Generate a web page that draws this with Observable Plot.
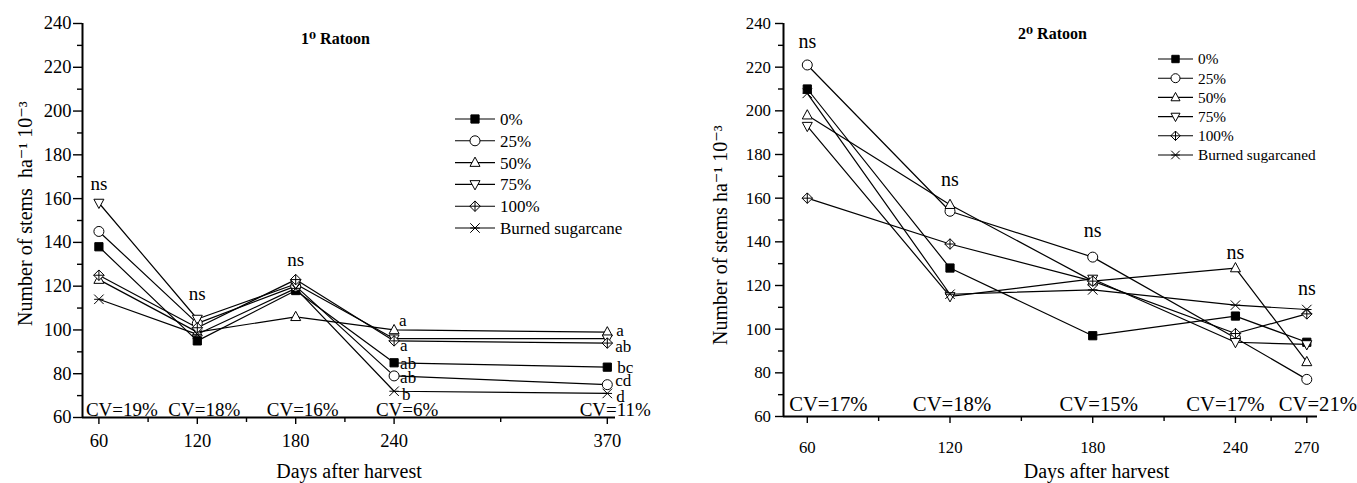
<!DOCTYPE html>
<html><head><meta charset="utf-8">
<script src="https://cdn.jsdelivr.net/npm/d3@7"></script>
<script src="https://cdn.jsdelivr.net/npm/@observablehq/plot@0.6"></script>
<style>
body{margin:0;background:#fff;}
#wrap{position:relative;width:1357px;height:483px;overflow:hidden;background:#fff;}
#wrap svg{position:absolute;top:0;}
</style></head><body><div id="wrap"></div>
<script>
// ---------- data ----------
const seriesNames = ["0%", "25%", "50%", "75%", "100%", "Burned sugarcane"];
const legendNames1 = ["0%", "25%", "50%", "75%", "100%", "Burned sugarcane"];
const legendNames2 = ["0%", "25%", "50%", "75%", "100%", "Burned sugarcaned"];

const days1 = [60, 120, 180, 240, 370];
const r1_0    = [138, 95, 118, 85, 83];
const r1_25   = [145, 103, 120, 79, 75];
const r1_50   = [123, 99, 106, 100, 99];
const r1_75   = [158, 105, 121, 96, 96];
const r1_100  = [125, 101, 123, 95, 94];
const r1_burn = [114, 98, 119, 72, 71];

const days2 = [60, 120, 180, 240, 270];
const r2_0    = [210, 128, 97, 106, 94];
const r2_25   = [221, 154, 133, 96, 77];
const r2_50   = [198, 157, 122, 128, 85];
const r2_75   = [193, 115, 123, 94, 93];
const r2_100  = [160, 139, 122, 98, 107];
const r2_burn = [208, 116, 118, 111, 109];

const cv1 = ["CV=19%", "CV=18%", "CV=16%", "CV=6%", "CV=11%"];
const cv2 = ["CV=17%", "CV=18%", "CV=15%", "CV=17%", "CV=21%"];
const nsDays1 = [60, 120, 180];
const nsDays2 = [60, 120, 180, 240, 270];

const sigLabels1 = [
  {series: "50%", day: 240, letter: "a"},
  {series: "100%", day: 240, letter: "a"},
  {series: "0%", day: 240, letter: "ab"},
  {series: "25%", day: 240, letter: "ab"},
  {series: "Burned sugarcane", day: 240, letter: "b"},
  {series: "50%", day: 370, letter: "a"},
  {series: "100%", day: 370, letter: "ab"},
  {series: "0%", day: 370, letter: "bc"},
  {series: "25%", day: 370, letter: "cd"},
  {series: "Burned sugarcane", day: 370, letter: "d"}
];

const yMajor = [60, 80, 100, 120, 140, 160, 180, 200, 220, 240];
const yMinor = [70, 90, 110, 130, 150, 170, 190, 210, 230];
const xMajor1 = [60, 120, 180, 240, 370];
const xMinor1 = [90, 150, 210, 305];
const xMajor2 = [60, 120, 180, 240, 270];
const xMinor2 = [90, 150, 210, 255];

// ---------- build tables ----------
function table(days, arrs) {
  const rows = [];
  arrs.forEach((vals, i) => vals.forEach((v, j) => rows.push({series: seriesNames[i], day: days[j], value: v})));
  return rows;
}
const rows1 = table(days1, [r1_0, r1_25, r1_50, r1_75, r1_100, r1_burn]);
const rows2 = table(days2, [r2_0, r2_25, r2_50, r2_75, r2_100, r2_burn]);

// ---------- symbols ----------
const rad = s => Math.sqrt(s / Math.PI);
const symbols = [
  {draw(c, s) { const R = rad(s) * 0.82; c.rect(-R, -R, 2 * R, 2 * R); }},
  {draw(c, s) { const R = rad(s); c.moveTo(R, 0); c.arc(0, 0, R, 0, 2 * Math.PI); }},
  {draw(c, s) { const R = rad(s); c.moveTo(0, -1.1 * R); c.lineTo(R, 0.75 * R); c.lineTo(-R, 0.75 * R); c.closePath(); }},
  {draw(c, s) { const R = rad(s); c.moveTo(0, 1.1 * R); c.lineTo(R, -0.75 * R); c.lineTo(-R, -0.75 * R); c.closePath(); }},
  {draw(c, s) { const R = rad(s) * 1.05; c.moveTo(0, -R); c.lineTo(R, 0); c.lineTo(0, R); c.lineTo(-R, 0); c.closePath();
                c.moveTo(0, -R); c.lineTo(0, R); c.moveTo(-R, 0); c.lineTo(R, 0); }},
  {draw(c, s) { const R = rad(s) * 0.95; c.moveTo(-R, -R); c.lineTo(R, R); c.moveTo(R, -R); c.lineTo(-R, R);
                c.moveTo(-R, 0); c.lineTo(R, 0); }}
];
const fills = ["black", "white", "white", "white", "white", "none"];

const SERIF = "'Liberation Serif', 'Times New Roman', 'DejaVu Serif', serif";

function panel(cfg) {
  const {rows, width, ml, mr, xdom, xMajor, xMinor, cv, cvDx, cvDy, nsDays, nsDy, tick, title, legend} = cfg;
  const maxAt = d => d3.max(rows.filter(r => r.day === d), r => r.value);
  const marks = [
    Plot.axisY(yMinor, {tickSize: 5, tickFormat: () => "", label: null, strokeWidth: 1.4}),
    Plot.axisY(yMajor, {tickSize: tick.ySize, tickPadding: tick.yPad, fontSize: tick.fs, label: null, strokeWidth: 1.4}),
    Plot.axisX(xMinor, {tickSize: 5, tickFormat: () => "", label: null, strokeWidth: 1.4}),
    Plot.axisX(xMajor, {tickSize: 7, tickPadding: tick.xPad, fontSize: tick.fs, label: null, strokeWidth: 1.4}),
    Plot.ruleX([xdom[0]], {strokeWidth: 2}),
    Plot.ruleY([60], {strokeWidth: 2}),
    Plot.line(rows, {x: "day", y: "value", z: "series", stroke: "black", strokeWidth: 1.2}),
    ...seriesNames.map((n, i) => Plot.dot(rows.filter(r => r.series === n), {
      x: "day", y: "value", symbol: symbols[i], r: cfg.r, fill: fills[i], stroke: "black", strokeWidth: 1
    })),
    ...nsDays.map((d, i) => Plot.text([d], {x: d => d, y: d => maxAt(d), text: () => "ns", dy: nsDy[i], fontSize: cfg.nsFs})),
    ...cv.map((t, i) => Plot.text([t], {x: () => xMajor[i], y: () => 60, text: d => d, dx: cvDx[i], dy: cvDy, fontSize: cfg.cvFs})),
    Plot.text([title.text], {frameAnchor: "top-left", dx: title.dx, dy: title.dy, text: d => d, fontWeight: "bold", fontSize: 16, textAnchor: "middle", lineAnchor: "middle"}),
    Plot.text(["Days after harvest"], {frameAnchor: "bottom", dx: cfg.xt.dx, dy: cfg.xt.dy, text: d => d, fontSize: 20, textAnchor: "middle", lineAnchor: "middle"}),
    Plot.text([cfg.yt.text], {frameAnchor: "left", dx: cfg.yt.dx, dy: cfg.yt.dy, rotate: -90, text: d => d, fontSize: 20, textAnchor: "middle", lineAnchor: "middle"})
  ];
  if (cfg.sig) {
    cfg.sig.forEach((s, i) => {
      const v = rows.find(r => r.series === s.series && r.day === s.day).value;
      marks.push(Plot.text([s], {x: "day", y: () => v, text: "letter", textAnchor: "start", dx: cfg.sigOff[i][0], dy: cfg.sigOff[i][1], fontSize: 17}));
    });
  }
  const svg = Plot.plot({
    width, height: 483, marginLeft: ml, marginRight: mr, marginTop: 23, marginBottom: cfg.mb,
    x: {domain: xdom, label: null},
    y: {domain: [60, 240], label: null},
    style: {fontFamily: SERIF, fontSize: "18px", color: "black", background: "transparent", overflow: "visible"},
    marks
  });
  // legend
  const g = d3.select(svg).append("g").attr("font-family", SERIF).attr("font-size", legend.fs)
    .attr("fill", "black").attr("text-anchor", "start");
  legend.names.forEach((n, i) => {
    const y = legend.y0 + i * legend.step;
    g.append("line").attr("x1", legend.x0).attr("x2", legend.x1).attr("y1", y).attr("y2", y).attr("stroke", "black").attr("stroke-width", 1.1);
    g.append("path").attr("transform", `translate(${(legend.x0 + legend.x1) / 2},${y})`)
      .attr("d", d3.symbol(symbols[i], legend.r * legend.r * Math.PI)())
      .attr("fill", fills[i]).attr("stroke", "black").attr("stroke-width", 1);
    g.append("text").attr("x", legend.tx).attr("y", y).attr("dy", "0.35em").attr("text-anchor", "start").text(n);
  });
  return svg;
}

const wrap = document.getElementById("wrap");

const left = panel({
  rows: rows1, width: 680, ml: 82, mr: 65, mb: 66, xdom: [50, 375],
  xMajor: xMajor1, xMinor: xMinor1, r: 5,
  tick: {ySize: 9, yPad: 2, xPad: 9, fs: 18.5},
  cv: cv1, cvDx: [23, 7, 7, 13, 8], cvDy: -8, cvFs: 19,
  nsDays: nsDays1, nsDy: [-19, -25, -20], nsFs: 19,
  sig: sigLabels1,
  sigOff: [[5, -9], [6, 5], [6, 1], [6, 2], [8, 3], [9, -2], [8, 3], [10, 0], [8, -4], [9, 3]],
  title: {text: "1⁰ Ratoon", dx: 253, dy: 15},
  xt: {dx: 0, dy: 54},
  yt: {text: "Number of stems  ha⁻¹ 10⁻³", dx: -57, dy: -7},
  legend: {names: legendNames1, x0: 455, x1: 495, tx: 500, y0: 119, step: 21.8, fs: 17, r: 5}
});
left.style.left = "0px";
wrap.appendChild(left);

const right = panel({
  rows: rows2, width: 677, ml: 103, mr: 40, mb: 67, xdom: [50, 274.5],
  xMajor: xMajor2, xMinor: xMinor2, r: 5,
  tick: {ySize: 8, yPad: 4.5, xPad: 18, fs: 16.8},
  cv: cv2, cvDx: [21, 2, 6, -10, 11], cvDy: -12, cvFs: 20.7,
  nsDays: nsDays2, nsDy: [-23, -25, -27, -15, -21], nsFs: 20,
  title: {text: "2⁰ Ratoon", dx: 269, dy: 10},
  xt: {dx: 46, dy: 55},
  yt: {text: "Number of stems ha⁻¹ 10⁻³", dx: -63, dy: 15},
  legend: {names: legendNames2, x0: 478, x1: 513, tx: 518, y0: 59, step: 19.2, fs: 15.3, r: 4.5}
});
right.style.left = "680px";
wrap.appendChild(right);
</script>
</body></html>
